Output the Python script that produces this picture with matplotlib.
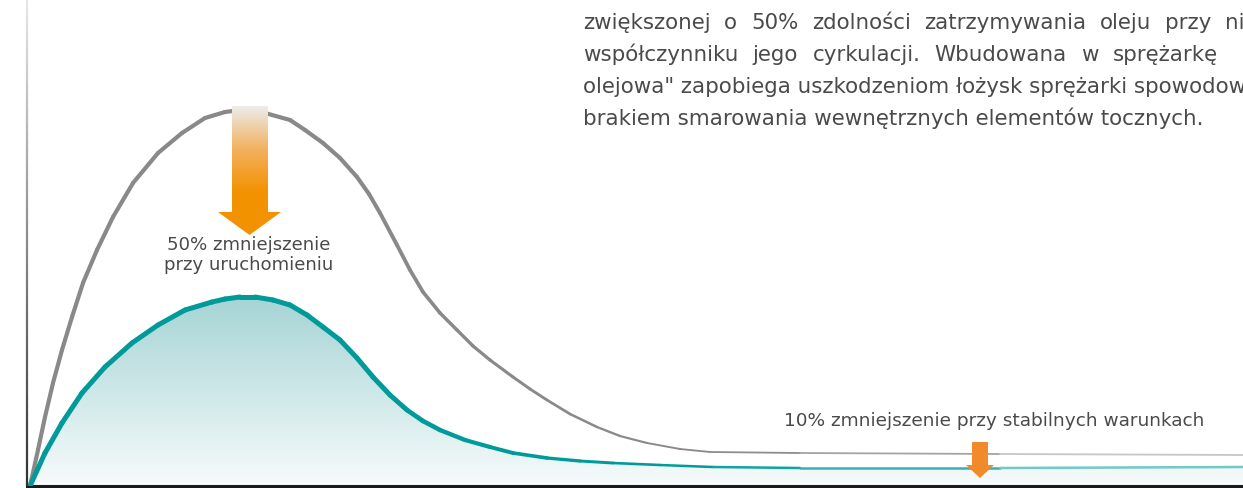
import numpy as np
import matplotlib
matplotlib.use("Agg")
import matplotlib.pyplot as plt
from matplotlib.collections import LineCollection
from matplotlib.patches import Polygon
from matplotlib.colors import LinearSegmentedColormap, to_rgb

# --- dane (czas, poziom oleju w obiegu) ---
czas_std = [3, 11, 18, 26, 35, 45, 56, 70, 86, 106, 131, 155, 178, 198, 213, 238, 263,
            278, 296, 313, 330, 342, 353, 370, 383, 396, 413, 430, 446, 463, 486, 503, 520,
            543, 570, 593, 620, 653, 683, 773, 973, 1216]
olej_std = [0, 36, 69, 103, 136, 169, 203, 236, 269, 303, 333, 353, 368, 374, 376, 373, 366,
            356, 343, 328, 309, 292, 273, 241, 216, 194, 173, 156, 140, 126, 109, 97, 86,
            72, 59, 50, 43, 37, 34, 33, 32, 31]

czas_nowa = [3, 18, 35, 55, 78, 105, 131, 158, 185, 198, 213, 228, 246, 263, 280,
             296, 313, 330, 346, 363, 380, 396, 413, 438, 463, 486, 520, 553, 586, 633, 686,
             773, 973, 1216]
olej_nowa = [0, 33, 63, 93, 119, 143, 161, 176, 184, 187, 189, 189, 186, 181, 171,
             159, 146, 128, 109, 91, 76, 65, 56, 46, 39, 33, 28, 25, 23, 21, 19,
             18, 18, 19]

etykieta_start = "50% zmniejszenie\nprzy uruchomieniu"
etykieta_stab = "10% zmniejszenie przy stabilnych warunkach"

akapit = [
    "zwiększonej o 50% zdolności zatrzymywania oleju przy niższym",
    "współczynniku jego cyrkulacji. Wbudowana w sprężarkę",
    "olejowa\" zapobiega uszkodzeniom łożysk sprężarki spowodowanym",
    "brakiem smarowania wewnętrznych elementów tocznych.",
]

W, H = 1243, 488
fig = plt.figure(figsize=(W / 100, H / 100), dpi=100)
fig.patch.set_facecolor("white")
ax = fig.add_axes([27 / W, 2 / H, (W - 27) / W, 486 / H])
ax.set_xticks([])
ax.set_yticks([])
for s in ["top", "right", "left"]:
    ax.spines[s].set_visible(False)
ax.spines["bottom"].set_linewidth(2.2)
ax.spines["bottom"].set_color("#1a1a1a")
ax.patch.set_alpha(0)

# lewa oś z gradientem
ys = np.linspace(0, 486, 60)
segs = [[(0, ys[i]), (0, ys[i + 1])] for i in range(len(ys) - 1)]
cm_axis = LinearSegmentedColormap.from_list("ax", ["#333333", "#8a8a8a", "#e6e6e6"])
ax.add_collection(LineCollection(segs, colors=cm_axis(np.linspace(0, 1, len(segs))),
                                 linewidths=1.6, clip_on=False, zorder=5))

# wypełnienie pod krzywą nowej sprężarki (gradient)
tn = np.array(czas_nowa, float)
vn = np.array(olej_nowa, float)
poly = Polygon(np.column_stack([np.r_[tn, tn[-1], tn[0]], np.r_[vn, 0, 0]]),
               closed=True, facecolor="none", edgecolor="none")
ax.add_patch(poly)
cm_fill = LinearSegmentedColormap.from_list("fill", ["#f7fbfb", "#a6d4d5"])
grad = np.linspace(0, 1, 256).reshape(-1, 1)
im = ax.imshow(grad, cmap=cm_fill, origin="lower", aspect="auto",
               extent=[0, W - 27, 0, vn.max()], zorder=1)
im.set_clip_path(poly)


def ramp(x, a, b):
    return np.clip((x - a) / (b - a), 0, 1)


def linia(t, v, kol, kol_end, lw, lw_end, x_lw, x_kol, z):
    t = np.asarray(t, float)
    v = np.asarray(v, float)
    pts = np.column_stack([t, v]).reshape(-1, 1, 2)
    seg = np.concatenate([pts[:-1], pts[1:]], axis=1)
    xm = (t[:-1] + t[1:]) / 2
    fw = ramp(xm, *x_lw)
    fc = ramp(xm, *x_kol)
    c0, c1 = np.array(to_rgb(kol)), np.array(to_rgb(kol_end))
    cols = c0[None, :] * (1 - fc[:, None]) + c1[None, :] * fc[:, None]
    lws = lw * (1 - fw) + lw_end * fw
    ax.add_collection(LineCollection(seg, colors=cols, linewidths=lws, capstyle="round",
                                     joinstyle="round", zorder=z))


linia(czas_std, olej_std, "#898989", "#dadada", 3.0, 1.3, (330, 650), (700, 1216), 3)
linia(czas_nowa, olej_nowa, "#009a9a", "#92d4d4", 3.6, 1.8, (360, 620), (650, 1216), 4)

# duża strzałka z gradientem
arrow_big = Polygon([(205, 380), (241, 380), (241, 274), (254, 274), (222.5, 251),
                     (191, 274), (205, 274)], closed=True, facecolor="none", edgecolor="none")
ax.add_patch(arrow_big)
cm_arr = LinearSegmentedColormap.from_list("arr", ["#f39200", "#f39200", "#f2b15e", "#ececec"])
im2 = ax.imshow(grad, cmap=cm_arr, origin="lower", aspect="auto",
                extent=[190, 256, 251, 380], zorder=6)
im2.set_clip_path(arrow_big)

# mała strzałka
ax.add_patch(Polygon([(945, 44), (961, 44), (961, 21), (967, 21), (953, 8),
                      (939, 21), (945, 21)], closed=True, facecolor="#f08a2b",
                     edgecolor="none", zorder=6))

ax.set_xlim(0, W - 27)
ax.set_ylim(0, 486)

kolor_txt = "#4a4a4a"
ax.text(222, 231, etykieta_start, ha="center", va="center", fontsize=13.1,
        color=kolor_txt, linespacing=1.1, zorder=7)
ax.text(967, 65, etykieta_stab, ha="center", va="center", fontsize=13.3,
        color=kolor_txt, zorder=7)

# akapit tekstu (wyjustowany)
renderer = fig.canvas.get_renderer()
x0 = 583
baseliny = [29, 61, 93, 125]
ostatnie = [1225, 1113, None, None]
fs = 15.4
for linia_txt, yb, x_last in zip(akapit, baseliny, ostatnie):
    yf = 1 - yb / H
    if x_last is None:
        fig.text(x0 / W, yf, linia_txt, fontsize=fs, color=kolor_txt, va="baseline", ha="left")
        continue
    slowa = linia_txt.split(" ")
    szer = []
    for sl in slowa:
        t = fig.text(0, 0, sl, fontsize=fs)
        szer.append(t.get_window_extent(renderer).width)
        t.remove()
    odstep = (x_last - x0 - sum(szer[:-1])) / (len(slowa) - 1)
    x = x0
    for sl, w in zip(slowa, szer):
        fig.text(x / W, yf, sl, fontsize=fs, color=kolor_txt, va="baseline", ha="left")
        x += w + odstep

fig.savefig("out.png", dpi=100)
